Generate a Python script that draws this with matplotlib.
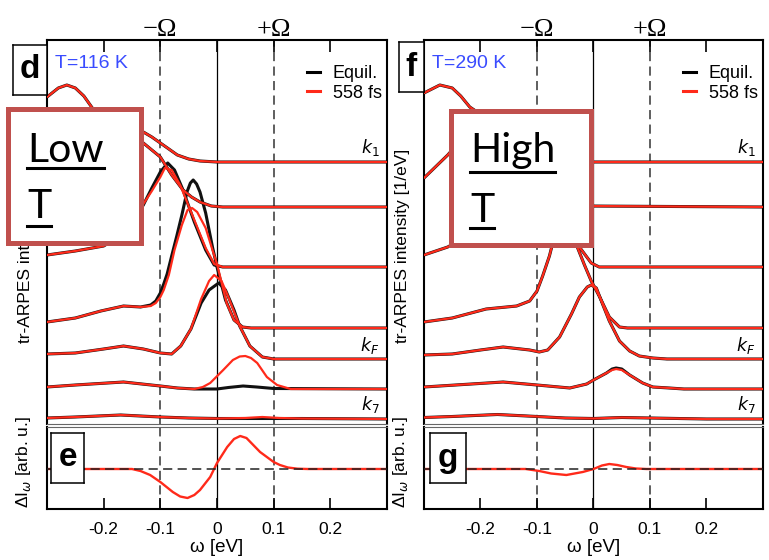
import matplotlib
matplotlib.use("Agg")
import matplotlib.pyplot as plt
from matplotlib.lines import Line2D

W, H = 769, 560
RED = "#ff2a1a"
FRAME = "#c0504d"

plt.rcParams["font.family"] = ["Liberation Sans", "DejaVu Sans"]

# energy axis ticks
w_ticks = [-0.2, -0.1, 0.0, 0.1, 0.2]
w_ticklabels = ["-0.2", "-0.1", "0", "0.1", "0.2"]

# vertical offsets of the EDC stack (k1 ... k7)
offsets = [26.4, 21.9, 15.9, 9.8, 6.7, 3.7, 0.75]
k_names = ["$k_1$", "$k_F$", "$k_7$"]
k_label_rows = [0, 4, 6]

# ---------------- T = 116 K ----------------
w_lo1 = [-0.30, -0.28, -0.265, -0.25, -0.235, -0.22, -0.19, -0.16, -0.13, -0.115, -0.10, -0.085, -0.07, -0.05, -0.03, 0.0, 0.30]
eq_lo1 = [6.5, 7.4, 7.7, 7.4, 6.6, 5.4, 4.4, 3.7, 3.0, 2.5, 1.9, 1.3, 0.7, 0.3, 0.1, 0.0, 0.0]

w_lo2 = [-0.30, -0.27, -0.24, -0.21, -0.18, -0.155, -0.13, -0.115, -0.10, -0.08, -0.06, -0.045, -0.03, -0.01, 0.01, 0.30]
eq_lo2 = [2.9, 4.7, 6.7, 7.9, 8.0, 7.4, 6.4, 5.7, 5.0, 3.2, 1.7, 1.0, 0.5, 0.1, 0.0, 0.0]

w_lo3_eq = [-0.30, -0.25, -0.20, -0.16, -0.13, -0.115, -0.10, -0.087, -0.075, -0.06, -0.04, -0.02, -0.005, 0.01, 0.30]
eq_lo3 = [1.2, 1.6, 2.1, 3.5, 6.2, 7.9, 9.5, 10.4, 9.7, 7.7, 4.5, 1.7, 0.2, 0.0, 0.0]
w_lo3_pu = [-0.30, -0.25, -0.20, -0.16, -0.13, -0.115, -0.10, -0.092, -0.08, -0.065, -0.04, -0.02, -0.005, 0.01, 0.30]
pu_lo3 = [1.2, 1.6, 2.1, 3.5, 6.3, 7.6, 9.0, 9.9, 9.7, 8.2, 4.7, 1.9, 0.3, 0.0, 0.0]

w_lo4_eq = [-0.30, -0.25, -0.205, -0.165, -0.135, -0.117, -0.108, -0.1, -0.094, -0.088, -0.08, -0.071, -0.062, -0.053, -0.047, -0.042, -0.036, -0.03, -0.02, -0.008, 0.0, 0.015, 0.03, 0.045, 0.06, 0.30]
eq_lo4 = [0.6, 1.0, 1.7, 2.2, 2.1, 2.3, 2.7, 3.5, 4.4, 5.4, 7.2, 9.2, 11.3, 13.6, 14.5, 14.8, 14.4, 13.6, 11.5, 8.1, 6.1, 2.8, 0.8, 0.1, 0.0, 0.0]
w_lo4_pu = [-0.30, -0.25, -0.205, -0.165, -0.135, -0.117, -0.108, -0.1, -0.094, -0.085, -0.075, -0.062, -0.052, -0.044, -0.035, -0.02, -0.008, 0.0, 0.017, 0.03, 0.045, 0.06, 0.30]
pu_lo4 = [0.6, 1.0, 1.7, 2.2, 2.1, 2.2, 2.5, 3.1, 3.8, 5.3, 7.8, 10.3, 11.8, 12.0, 11.6, 10.0, 7.8, 6.4, 2.5, 0.8, 0.1, 0.0, 0.0]

w_lo5_eq = [-0.30, -0.25, -0.20, -0.165, -0.13, -0.10, -0.08, -0.064, -0.046, -0.028, -0.014, 0.003, 0.015, 0.03, 0.04, 0.058, 0.08, 0.10, 0.30]
eq_lo5 = [0.5, 0.6, 1.0, 1.3, 1.0, 0.6, 0.5, 1.3, 3.0, 5.6, 6.9, 7.6, 6.9, 4.9, 3.3, 1.3, 0.2, 0.0, 0.0]
w_lo5_pu = [-0.30, -0.25, -0.20, -0.165, -0.13, -0.10, -0.08, -0.064, -0.046, -0.028, -0.014, -0.005, 0.008, 0.02, 0.04, 0.058, 0.08, 0.10, 0.30]
pu_lo5 = [0.5, 0.6, 1.0, 1.3, 1.0, 0.6, 0.5, 1.3, 3.0, 6.0, 7.8, 8.4, 7.8, 6.2, 3.3, 1.3, 0.2, 0.0, 0.0]

w_lo6_eq = [-0.30, -0.25, -0.165, -0.10, -0.07, -0.04, 0.0, 0.02, 0.046, 0.07, 0.10, 0.30]
eq_lo6 = [0.2, 0.4, 0.7, 0.3, 0.1, 0.0, 0.0, 0.15, 0.3, 0.2, 0.05, 0.0]
w_lo6_pu = [-0.30, -0.25, -0.165, -0.10, -0.07, -0.04, -0.025, -0.012, 0.011, 0.028, 0.04, 0.05, 0.06, 0.071, 0.088, 0.106, 0.13, 0.30]
pu_lo6 = [0.2, 0.4, 0.7, 0.3, 0.1, 0.0, 0.2, 0.6, 1.9, 2.9, 3.25, 3.3, 3.1, 2.6, 1.2, 0.4, 0.0, 0.0]

w_lo7 = [-0.30, -0.25, -0.17, -0.10, -0.05, 0.0, 0.05, 0.08, 0.11, 0.15, 0.30]
eq_lo7 = [0.05, 0.15, 0.35, 0.15, 0.05, 0.0, 0.0, 0.0, 0.0, 0.0, -0.05]
pu_lo7 = [0.05, 0.15, 0.35, 0.15, 0.05, 0.0, 0.05, 0.15, 0.05, 0.0, -0.05]

w_dlo = [-0.30, -0.15, -0.135, -0.118, -0.10, -0.078, -0.065, -0.052, -0.04, -0.03, -0.012, 0.0, 0.018, 0.03, 0.041, 0.052, 0.064, 0.076, 0.088, 0.10, 0.111, 0.125, 0.142, 0.16, 0.30]
dI_lo = [0.0, 0.0, -0.2, -0.6, -1.3, -2.3, -2.75, -2.9, -2.6, -2.1, -0.8, 0.6, 2.2, 3.0, 3.3, 3.1, 2.4, 1.7, 1.2, 0.7, 0.4, 0.15, 0.03, 0.0, 0.0]

# ---------------- T = 290 K ----------------
w_hi1 = [-0.30, -0.272, -0.25, -0.235, -0.219, -0.19, -0.16, -0.13, -0.10, -0.07, -0.04, -0.01, 0.30]
eq_hi1 = [6.9, 7.7, 7.4, 6.6, 5.5, 4.4, 3.6, 2.8, 1.8, 0.9, 0.3, 0.0, 0.0]

w_hi2 = [-0.30, -0.258, -0.23, -0.20, -0.17, -0.14, -0.10, -0.07, -0.04, -0.015, 0.30]
eq_hi2 = [2.9, 5.2, 7.0, 8.0, 7.9, 7.0, 4.8, 2.8, 1.0, 0.1, 0.0]

w_hi3 = [-0.30, -0.258, -0.22, -0.18, -0.14, -0.11, -0.09, -0.07, -0.045, -0.025, -0.004, 0.01, 0.30]
eq_hi3 = [1.2, 2.0, 3.2, 5.0, 7.2, 8.8, 9.0, 8.2, 5.2, 2.0, 0.4, 0.0, 0.0]

w_hi4 = [-0.30, -0.25, -0.19, -0.136, -0.113, -0.10, -0.09, -0.078, -0.069, -0.058, -0.05, -0.042, -0.035, -0.028, -0.016, -0.004, 0.011, 0.028, 0.046, 0.06, 0.30]
eq_hi4 = [0.6, 1.0, 1.9, 2.2, 2.7, 3.7, 5.2, 7.2, 9.2, 11.8, 12.4, 11.5, 10.0, 8.0, 6.3, 4.7, 3.1, 1.1, 0.1, 0.0, 0.0]

w_hi5 = [-0.30, -0.25, -0.20, -0.16, -0.113, -0.096, -0.081, -0.06, -0.039, -0.025, -0.011, -0.004, 0.005, 0.016, 0.028, 0.046, 0.064, 0.081, 0.105, 0.13, 0.30]
eq_hi5 = [0.4, 0.5, 0.9, 1.2, 0.9, 0.7, 0.9, 2.2, 4.5, 6.2, 7.2, 7.4, 7.1, 5.5, 3.8, 1.8, 0.8, 0.3, 0.1, 0.0, 0.0]

w_hi6 = [-0.30, -0.16, -0.10, -0.042, -0.012, 0.0, 0.023, 0.033, 0.04, 0.05, 0.064, 0.087, 0.105, 0.134, 0.16, 0.30]
eq_hi6 = [0.2, 0.7, 0.4, 0.1, 0.5, 0.9, 1.6, 2.0, 2.1, 2.0, 1.4, 0.6, 0.2, 0.1, 0.0, 0.0]
pu_hi6 = [0.2, 0.7, 0.4, 0.1, 0.5, 0.9, 1.6, 1.9, 2.0, 1.9, 1.4, 0.6, 0.2, 0.1, 0.0, 0.0]

w_hi7 = [-0.30, -0.25, -0.17, -0.10, -0.05, 0.0, 0.05, 0.10, 0.20, 0.30]
eq_hi7 = [0.1, 0.2, 0.4, 0.2, 0.05, 0.0, 0.1, 0.05, -0.05, -0.05]

w_dhi = [-0.30, -0.12, -0.096, -0.075, -0.048, -0.019, 0.0, 0.015, 0.028, 0.042, 0.058, 0.075, 0.094, 0.30]
dI_hi = [0.0, 0.0, -0.2, -0.45, -0.6, -0.3, 0.0, 0.35, 0.5, 0.4, 0.2, 0.05, 0.0, 0.0]

edc_lo = [(w_lo1, eq_lo1, w_lo1, eq_lo1),
          (w_lo2, eq_lo2, w_lo2, eq_lo2),
          (w_lo3_eq, eq_lo3, w_lo3_pu, pu_lo3),
          (w_lo4_eq, eq_lo4, w_lo4_pu, pu_lo4),
          (w_lo5_eq, eq_lo5, w_lo5_pu, pu_lo5),
          (w_lo6_eq, eq_lo6, w_lo6_pu, pu_lo6),
          (w_lo7, eq_lo7, w_lo7, pu_lo7)]
edc_hi = [(w_hi1, eq_hi1, w_hi1, eq_hi1),
          (w_hi2, eq_hi2, w_hi2, eq_hi2),
          (w_hi3, eq_hi3, w_hi3, eq_hi3),
          (w_hi4, eq_hi4, w_hi4, eq_hi4),
          (w_hi5, eq_hi5, w_hi5, eq_hi5),
          (w_hi6, eq_hi6, w_hi6, pu_hi6),
          (w_hi7, eq_hi7, w_hi7, eq_hi7)]


def px_box(x0, y0, x1, y1):
    return [x0 / W, 1 - y1 / H, (x1 - x0) / W, (y1 - y0) / H]


fig = plt.figure(figsize=(W / 100, H / 100), dpi=100)


def guide_lines(ax):
    ax.axvline(0.0, color="black", lw=0.9, zorder=1)
    for w in (-0.1, 0.1):
        ax.axvline(w, color="#333333", lw=1.1, ls=(0, (6, 3.5)), zorder=1)


def label_box(rect, letter):
    lb = fig.add_axes(px_box(*rect), zorder=5)
    lb.set_xticks([])
    lb.set_yticks([])
    lb.set_facecolor("white")
    for s in lb.spines.values():
        s.set_linewidth(1.1)
    lb.text(0.5, 0.5, letter, ha="center", va="center", fontsize=24, weight="bold",
            transform=lb.transAxes)


def edc_panel(rect, curves, temp, letter, letter_rect):
    ax = fig.add_axes(px_box(*rect))
    guide_lines(ax)
    for (we, ie, wp, ip), off in zip(curves, offsets):
        ax.plot(we, [off + v for v in ie], color="#111111", lw=2.2, zorder=2,
                solid_joinstyle="round", solid_capstyle="round")
    for (we, ie, wp, ip), off in zip(curves, offsets):
        ax.plot(wp, [off + v for v in ip], color=RED, lw=1.6, zorder=3,
                solid_joinstyle="round", solid_capstyle="round")
    ax.set_xlim(-0.3, 0.3)
    ax.set_ylim(0.2, 38.6)
    ax.set_xticks(w_ticks)
    ax.set_yticks([])
    ax.tick_params(axis="x", direction="in", top=True, bottom=False, labelbottom=False,
                   length=8.5, width=1.2)
    for s in ("left", "right", "top"):
        ax.spines[s].set_linewidth(1.5)
    ax.spines["bottom"].set_linewidth(0.8)
    ax.spines["bottom"].set_color("#666666")

    for row, name in zip(k_label_rows, k_names):
        ax.text(0.287, offsets[row] + 0.35, name, ha="right", va="bottom", fontsize=12.5)

    xt = ax.get_xaxis_transform()
    ax.text(-0.1, 1.026, "\u2212\u03a9", transform=xt, ha="center", va="center",
            fontsize=19, family=["Liberation Serif", "DejaVu Serif"])
    ax.text(0.1, 1.026, "+\u03a9", transform=xt, ha="center", va="center",
            fontsize=19, family=["Liberation Serif", "DejaVu Serif"])
    ax.text(0.024, 0.938, temp, transform=ax.transAxes, ha="left", va="center",
            fontsize=14, color="#3a4cff")

    ax.legend(handles=[Line2D([], [], color="black", lw=2.2), Line2D([], [], color=RED, lw=2.2)],
              labels=["Equil.", "558 fs"], loc="upper right", bbox_to_anchor=(0.985, 0.935),
              frameon=False, fontsize=13, handlelength=0.75, handletextpad=0.7,
              labelspacing=0.15, borderpad=0, borderaxespad=0)

    ax.set_ylabel("tr-ARPES intensity [1/eV]", fontsize=12.5)
    ax.yaxis.set_label_coords(-0.041, 0.464)
    label_box(letter_rect, letter)
    return ax


def diff_panel(rect, w, dI, letter, letter_rect):
    ax = fig.add_axes(px_box(*rect))
    guide_lines(ax)
    ax.plot(w, dI, color=RED, lw=1.7, zorder=2, solid_joinstyle="round")
    ax.axhline(0.0, color="#222222", lw=1.1, ls=(0, (6, 3.5)), zorder=3)
    ax.set_xlim(-0.3, 0.3)
    ax.set_ylim(-4.0, 4.2)
    ax.set_xticks(w_ticks)
    ax.set_xticklabels(w_ticklabels)
    ax.set_yticks([])
    ax.tick_params(axis="x", direction="in", top=False, bottom=True, length=8, width=1.2,
                   labelsize=12.5, pad=9)
    for s in ("left", "right", "bottom"):
        ax.spines[s].set_linewidth(1.5)
    ax.spines["top"].set_linewidth(0.8)
    ax.spines["top"].set_color("#666666")
    ax.set_xlabel("\u03c9 [eV]", fontsize=13.5, labelpad=2)
    ax.set_ylabel("\u0394I$_\\omega$ [arb. u.]", fontsize=12.5)
    ax.yaxis.set_label_coords(-0.041, 0.57)
    label_box(letter_rect, letter)
    return ax


edc_panel((47, 40, 387, 424), edc_lo, "T=116 K", "d", (13, 45, 47, 95))
diff_panel((47, 427, 387, 509), w_dlo, dI_lo, "e", (51, 433, 84, 483))
edc_panel((424, 40, 763, 424), edc_hi, "T=290 K", "f", (399, 42, 424, 92))
diff_panel((424, 427, 763, 509), w_dhi, dI_hi, "g", (430, 433, 466, 483))

# annotation frames laid over the plots
note_font = ["Lato", "DejaVu Sans"]
notes = []
for rect, lines in (((7.5, 108.5, 140.5, 242.5), [("Low", 27, 162, 168), ("T", 27, 218, 225.5)]),
                    ((450.5, 110.5, 590.5, 244.5), [("High", 470, 162, 172), ("T", 470, 222, 228)])):
    fr = fig.add_axes(px_box(*rect), zorder=10)
    fr.set_xticks([])
    fr.set_yticks([])
    fr.set_facecolor("white")
    for s in fr.spines.values():
        s.set_linewidth(3.6)
        s.set_color(FRAME)
    for word, x, base, uline in lines:
        t = fig.text(x / W, 1 - base / H, word, fontsize=29.5, family=note_font,
                     va="baseline", ha="left", zorder=11)
        notes.append((t, uline))

fig.canvas.draw()
renderer = fig.canvas.get_renderer()
for t, uline in notes:
    bb = t.get_window_extent(renderer)
    fig.add_artist(Line2D([bb.x0 / W, bb.x1 / W], [1 - uline / H] * 2,
                          transform=fig.transFigure, color="black", lw=2.2, zorder=12))

fig.savefig("out.png", dpi=100)
